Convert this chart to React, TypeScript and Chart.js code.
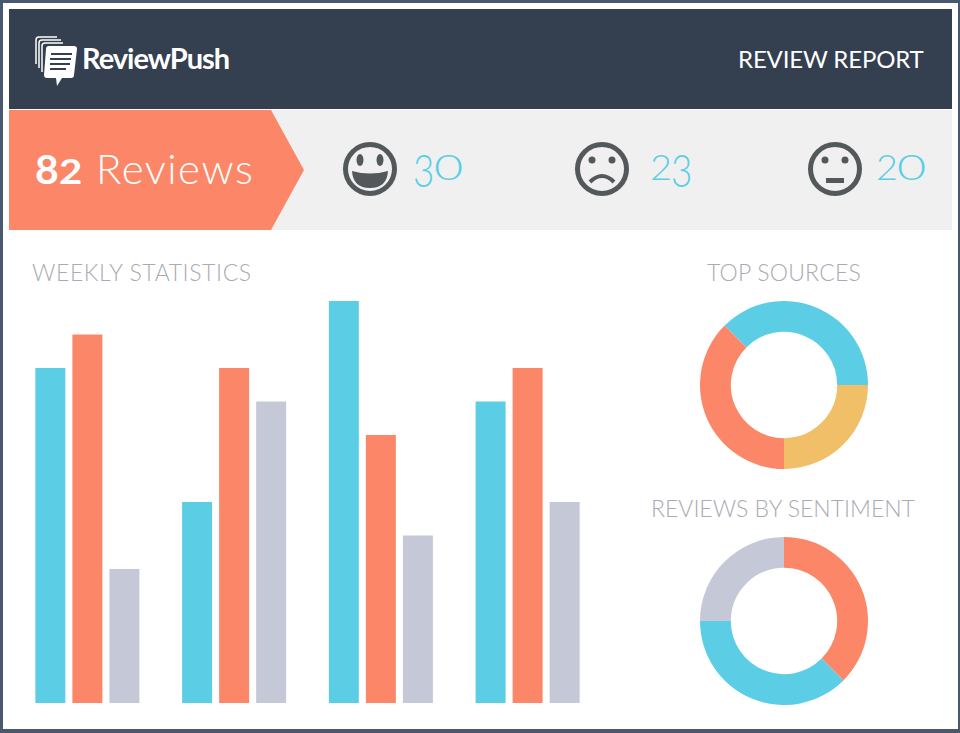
import React, { useEffect, useRef } from "react";
import { Chart, registerables } from "chart.js";

Chart.register(...registerables);

const weeks = ["Week 1", "Week 2", "Week 3", "Week 4"];
const positiveWeekly = [10, 6, 12, 9];
const negativeWeekly = [11, 10, 8, 10];
const neutralWeekly = [4, 9, 5, 6];
const sourceLabels = ["Source A", "Source B", "Source C"];
const sourceValues = [3, 2, 3];
const sentimentLabels = ["Negative", "Positive", "Neutral"];
const sentimentValues = [3, 3, 2];

const BLUE = "#5bcee6";
const ORANGE = "#fb8768";
const GRAY = "#c5c9d7";
const YELLOW = "#f0bf67";
const sourceColors = [BLUE, YELLOW, ORANGE];
const sentimentColors = [ORANGE, BLUE, GRAY];
const FACE = "#53585b";

function Text(props: { x: number; y: number; size: number; color: string; weight?: number; spacing?: number; sx?: number; children: any }) {
  return (
    <span
      style={{
        position: "absolute",
        left: props.x,
        top: props.y,
        fontFamily: "Lato, sans-serif",
        fontSize: props.size,
        lineHeight: "1",
        color: props.color,
        fontWeight: props.weight ?? 400,
        letterSpacing: props.spacing ?? 0,
        whiteSpace: "nowrap",
        transform: props.sx ? `scaleX(${props.sx})` : undefined,
        transformOrigin: "left top",
      }}
    >
      {props.children}
    </span>
  );
}

function Face({ cx, kind }: { cx: number; kind: "happy" | "sad" | "flat" }) {
  return (
    <svg style={{ position: "absolute", left: cx - 29, top: 140 }} width={58} height={58} viewBox="-29 -29 58 58">
      <circle r={24.5} fill="none" stroke={FACE} strokeWidth={5} />
      {kind === "happy" ? (
        <>
          <ellipse cx={-10} cy={-9} rx={3.5} ry={6} fill={FACE} />
          <ellipse cx={10} cy={-9} rx={3.5} ry={6} fill={FACE} />
          <path d="M-18 2 Q0 7 18 2 Q17 19 0 19 Q-17 19 -18 2Z" fill={FACE} />
        </>
      ) : (
        <>
          <circle cx={-10} cy={-9} r={3.5} fill={FACE} />
          <circle cx={10} cy={-9} r={3.5} fill={FACE} />
          {kind === "sad" ? (
            <path d="M-12 13 Q0 1 12 13" fill="none" stroke={FACE} strokeWidth={4} />
          ) : (
            <rect x={-9} y={9} width={18} height={5} fill={FACE} />
          )}
        </>
      )}
    </svg>
  );
}

function Logo() {
  return (
    <svg style={{ position: "absolute", left: 33, top: 34 }} width={48} height={54} viewBox="0 0 48 54">
      <path d="M3 30 V6 Q3 3 6 3 H24" fill="none" stroke="#fff" strokeWidth={1.5} />
      <path d="M6 34 V9 Q6 6 9 6 H28" fill="none" stroke="#fff" strokeWidth={1.5} />
      <path d="M9 38 V12 Q9 9 12 9 H30" fill="none" stroke="#fff" strokeWidth={1.5} />
      <path d="M13 15 Q13 12 16 12 H41 Q44 12 44 15 L41 41 Q41 44 38 44 H29 L24 52 L23 44 H14 Q11 44 11 41Z" fill="#fff" />
      <path d="M18 20 H39 M17 25 H38 M17 30 H37 M17 35 H33" stroke="#34404f" strokeWidth={2} />
    </svg>
  );
}

export default function App() {
  const barRef = useRef<HTMLCanvasElement>(null);
  const srcRef = useRef<HTMLCanvasElement>(null);
  const sentRef = useRef<HTMLCanvasElement>(null);

  useEffect(() => {
    const bar = new Chart(barRef.current!, {
      type: "bar",
      data: {
        labels: weeks,
        datasets: [
          { label: "Positive", data: positiveWeekly, backgroundColor: BLUE },
          { label: "Negative", data: negativeWeekly, backgroundColor: ORANGE },
          { label: "Neutral", data: neutralWeekly, backgroundColor: GRAY },
        ],
      },
      options: {
        animation: false,
        responsive: false,
        categoryPercentage: 0.757,
        barPercentage: 0.81,
        layout: { padding: 0 },
        plugins: { legend: { display: false }, tooltip: { enabled: false } },
        scales: { x: { display: false }, y: { display: false, min: 0, max: 12 } },
      } as any,
    });
    const doughnut = (el: HTMLCanvasElement, labels: string[], data: number[], colors: string[], rotation: number) =>
      new Chart(el, {
        type: "doughnut",
        data: { labels, datasets: [{ data, backgroundColor: colors, borderWidth: 0 }] },
        options: {
          animation: false,
          responsive: false,
          cutout: "63.3%",
          rotation,
          plugins: { legend: { display: false }, tooltip: { enabled: false } },
        } as any,
      });
    const src = doughnut(srcRef.current!, sourceLabels, sourceValues, sourceColors, -45);
    const sent = doughnut(sentRef.current!, sentimentLabels, sentimentValues, sentimentColors, 0);
    return () => {
      bar.destroy();
      src.destroy();
      sent.destroy();
    };
  }, []);

  return (
    <div style={{ position: "fixed", left: 0, top: 0, width: 960, height: 733, overflow: "hidden", background: "#47586f", filter: "blur(0.4px)" }}>
      <div style={{ position: "absolute", left: 3, top: 3, width: 955, height: 726, background: "#fff" }} />
      <div style={{ position: "absolute", left: 9, top: 9, width: 943, height: 100, background: "#34404f" }} />
      <div style={{ position: "absolute", left: 9, top: 110, width: 943, height: 120, background: "#f0f0f0" }} />
      <svg style={{ position: "absolute", left: 9, top: 110 }} width={296} height={120}>
        <polygon points="0,0 262,0 295,60 262,120 0,120" fill={ORANGE} />
      </svg>
      <Logo />
      <Text x={82} y={43} size={29} color="#fff" weight={700} spacing={-1}>ReviewPush</Text>
      <Text x={738} y={47} size={24} color="#fff" spacing={-0.15}>REVIEW REPORT</Text>

      <Text x={35} y={148} size={41} color="#fff" weight={700}>8</Text>
      <Text x={59} y={153} size={35} color="#fff" weight={700} sx={1.15}>2</Text>
      <Text x={96} y={147} size={42} color="#fff" weight={300} spacing={1.5}>Reviews</Text>

      <Face cx={370} kind="happy" />
      <Face cx={602} kind="sad" />
      <Face cx={835} kind="flat" />

      <Text x={413} y={147} size={46} color={BLUE} weight={300} sx={0.8}>3</Text>
      <Text x={434} y={148} size={36} color={BLUE} weight={300} sx={1.4}>0</Text>
      <Text x={650} y={148} size={36} color={BLUE} weight={300} sx={1.05}>2</Text>
      <Text x={671} y={147} size={46} color={BLUE} weight={300} sx={0.8}>3</Text>
      <Text x={876} y={148} size={36} color={BLUE} weight={300} sx={1.05}>2</Text>
      <Text x={897} y={148} size={36} color={BLUE} weight={300} sx={1.4}>0</Text>

      <Text x={32} y={261} size={23} color="#a9abb3" weight={300} spacing={0.6}>WEEKLY STATISTICS</Text>
      <Text x={707} y={261} size={23} color="#a9abb3" weight={300} spacing={0.2}>TOP SOURCES</Text>
      <Text x={651} y={497} size={23} color="#a9abb3" weight={300}>REVIEWS BY SENTIMENT</Text>
      <canvas ref={barRef} width={587} height={402} style={{ position: "absolute", left: 14, top: 301 }} />
      <canvas ref={srcRef} width={168} height={168} style={{ position: "absolute", left: 700, top: 301 }} />
      <canvas ref={sentRef} width={168} height={168} style={{ position: "absolute", left: 700, top: 537 }} />
    </div>
  );
}
